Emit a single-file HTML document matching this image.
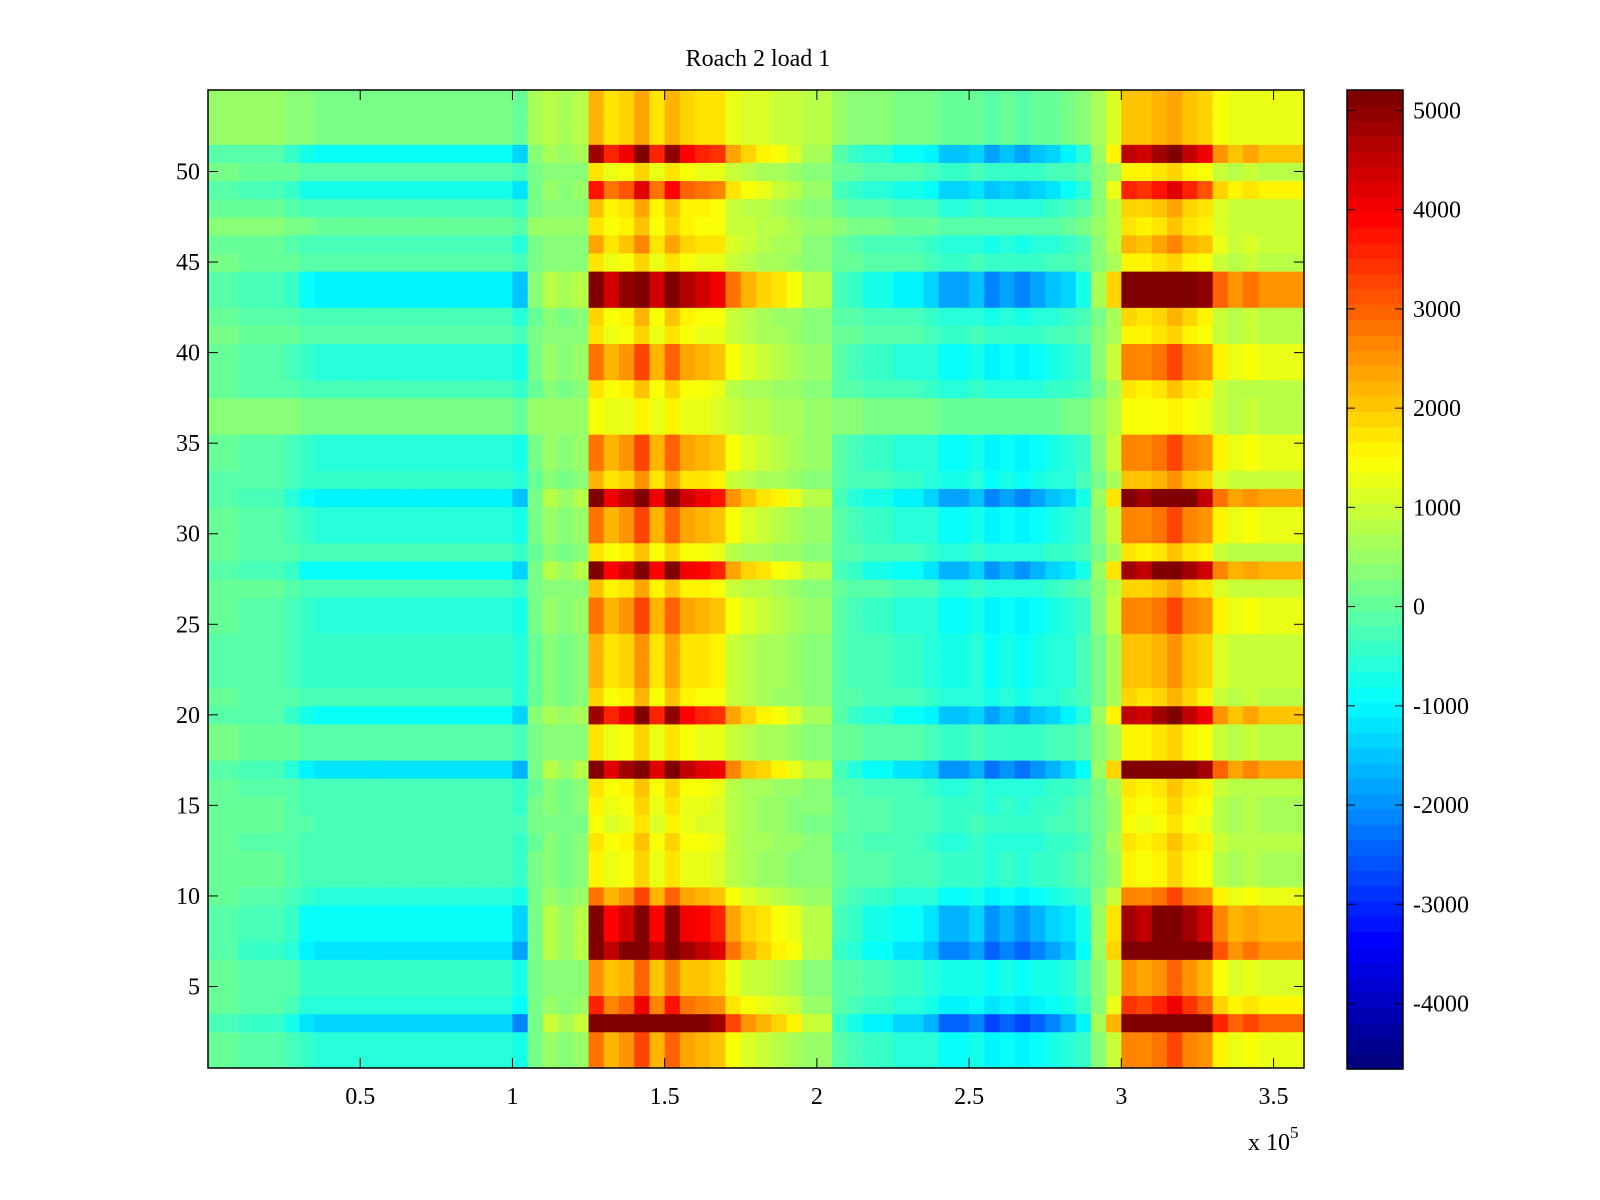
<!DOCTYPE html>
<html><head><meta charset="utf-8"><style>
html,body{margin:0;padding:0;background:#fff;}
svg{display:block;font-family:"Liberation Serif",serif;}
</style></head><body>
<svg id="chart" width="1600" height="1200" viewBox="0 0 1600 1200">
<text x="758" y="66" font-size="24" text-anchor="middle">Roach 2 load 1</text>
<g id="cells"></g>
<g id="axes"></g>
<g id="cbar"></g>
</svg>
<script>
// column activity profile: one value per 5000-unit bin from 0 to 3.6e5
const colProfile = [-0.12,-0.12,-0.15,-0.15,-0.15,-0.2,-0.28,-0.3,-0.3,-0.3,-0.3,-0.3,-0.3,-0.3,-0.3,-0.3,-0.3,-0.3,-0.3,-0.3,
 -0.4,-0.05,0.05,0,0.05,0.95,0.7,0.8,1.1,0.7,1.0,0.75,0.7,0.65,0.4,0.3,0.25,0.2,0.15,0.05,0.05,
 -0.15,-0.2,-0.25,-0.25,-0.3,-0.3,-0.35,-0.45,-0.45,-0.4,-0.5,-0.45,-0.5,-0.45,-0.4,-0.35,-0.25,
 0.0,0.25,0.9,0.85,0.95,1.1,0.9,0.8,0.45,0.35,0.4,0.35,0.35,0.35];
// per-row base level and gain, rows 1..54
const rowBase = [300,300,600,400,300,300,500,500,500,300,200,200,200,200,200,200,500,300,300,500,200,200,200,200,300,300,300,500,200,300,300,500,200,300,300,500,500,200,300,300,300,200,600,600,300,300,500,300,300,300,500,700,700,700];
const rowGain = [0.9,0.9,2.2,1.1,0.8,0.8,1.9,1.6,1.6,0.9,0.5,0.5,0.55,0.45,0.5,0.55,1.8,0.5,0.5,1.5,0.6,0.7,0.7,0.7,0.9,0.9,0.6,1.6,0.55,0.9,0.9,1.7,0.7,0.9,0.9,0.35,0.35,0.55,0.9,0.9,0.5,0.6,1.8,1.8,0.5,0.7,0.45,0.6,1.2,0.5,1.5,0.5,0.5,0.5];
const xTicks = [0.5,1,1.5,2,2.5,3,3.5];
const yTicks = [5,10,15,20,25,30,35,40,45,50];
const cTicks = [5000,4000,3000,2000,1000,0,-1000,-2000,-3000,-4000];
const cMin = -4660, cMax = 5206, xMax = 3.6, binW = 0.05;

const L=208,R=1304,T=90,B=1068;
const xs = v => L + v/xMax*(R-L);
const ys = v => B - (v-0.5)/54*(B-T);
const NS='http://www.w3.org/2000/svg';
function mk(tag, attrs, parent){const e=document.createElementNS(NS,tag);for(const k in attrs)e.setAttribute(k,attrs[k]);parent.appendChild(e);return e;}
function jet(t){
  t=Math.max(0,Math.min(1,t)); t=Math.min(63,Math.floor(t*64))/63;
  const f=x=>Math.round(255*Math.max(0,Math.min(1,1.5-Math.abs(4*t-x))));
  return `rgb(${f(3)},${f(2)},${f(1)})`;
}
const cells=document.getElementById('cells');
for(let r=0;r<rowBase.length;r++){
  for(let c=0;c<colProfile.length;c++){
    const v=rowBase[r]+rowGain[r]*colProfile[c]*3000;
    const x0=xs(c*binW), x1=xs((c+1)*binW), y0=ys(r+1.5), y1=ys(r+0.5);
    const el=mk('rect',{x:x0,y:y0,width:x1-x0+0.5,height:y1-y0+0.5,fill:jet((v-cMin)/(cMax-cMin))},cells);
    
    
  }
}
const ax=document.getElementById('axes');
mk('rect',{x:L,y:T,width:R-L,height:B-T,fill:'none',stroke:'#000','stroke-width':1.5},ax);
xTicks.forEach(t=>{const x=xs(t);
  mk('line',{x1:x,x2:x,y1:B,y2:B-10,stroke:'#000'},ax);mk('line',{x1:x,x2:x,y1:T,y2:T+10,stroke:'#000'},ax);
  const tx=mk('text',{x:x,y:1104,'font-size':24,'text-anchor':'middle'},ax);tx.textContent=t;
  
  
});
yTicks.forEach(t=>{const y=ys(t);
  mk('line',{x1:L,x2:L+10,y1:y,y2:y,stroke:'#000'},ax);mk('line',{x1:R,x2:R-10,y1:y,y2:y,stroke:'#000'},ax);
  const tx=mk('text',{x:200,y:y+8,'font-size':24,'text-anchor':'end'},ax);tx.textContent=t;
  
  
});
const ex=mk('text',{x:1248,y:1150,'font-size':24},ax);ex.innerHTML='x 10<tspan dy="-12" font-size="17">5</tspan>';


const cb=document.getElementById('cbar');
const CL=1347,CR=1403,CT=90,CB=1069;
const cy=v=>CB-(v-cMin)/(cMax-cMin)*(CB-CT);
for(let i=0;i<64;i++){
  const y0=CB-(i+1)/64*(CB-CT), y1=CB-i/64*(CB-CT);
  const el=mk('rect',{x:CL,y:y0,width:CR-CL,height:y1-y0+0.6,fill:jet((i+0.5)/64)},cb);
  
  
}
mk('rect',{x:CL,y:CT,width:CR-CL,height:CB-CT,fill:'none',stroke:'#000','stroke-width':1.5},cb);
cTicks.forEach(t=>{const y=cy(t);
  mk('line',{x1:CL,x2:CL+8,y1:y,y2:y,stroke:'#000'},cb);mk('line',{x1:CR,x2:CR-8,y1:y,y2:y,stroke:'#000'},cb);
  const tx=mk('text',{x:1413,y:y+8,'font-size':24},cb);tx.textContent=t;
  
  
});
</script>
</body></html>
